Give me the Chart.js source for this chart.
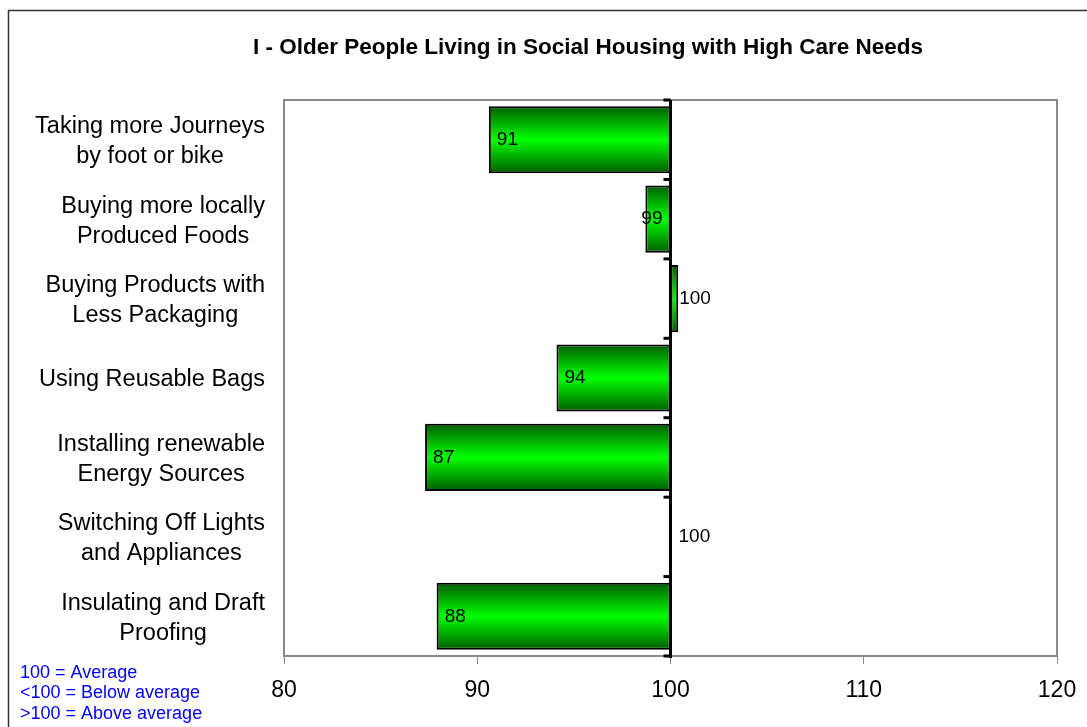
<!DOCTYPE html>
<html><head><meta charset="utf-8">
<script src="https://cdn.jsdelivr.net/npm/chart.js@4/dist/chart.umd.min.js"></script>
<style>html,body{margin:0;padding:0;background:#fff;}#wrap{width:1087px;height:727px;position:relative;}</style>
</head><body><div id="wrap"><canvas id="c" width="1087" height="727"></canvas></div>
<script>
const categories = [
  ["Taking more Journeys","by foot or bike"],
  ["Buying more locally","Produced Foods"],
  ["Buying Products with","Less Packaging"],
  ["Using Reusable Bags"],
  ["Installing renewable","Energy Sources"],
  ["Switching Off Lights","and Appliances"],
  ["Insulating and Draft","Proofing"]
];
const indexValues = [90.6, 98.7, 100.4, 94.1, 87.3, 100.0, 87.9];
const valueLabels = ["91","99","100","94","87","100","88"];
const baseline = 100;
const xTicks = [80, 90, 100, 110, 120];
const titleText = "I - Older People Living in Social Housing with High Care Needs";
const noteLines = ["100 = Average", "<100 = Below average", ">100 = Above average"];

const FONT = "'Liberation Sans', Arial, Helvetica, sans-serif";
const BAR_PCT = 0.845;

const deco = {
  id: 'deco',
  beforeDraw(chart) {
    const c = chart.ctx;
    c.save();
    c.fillStyle = '#fff';
    c.fillRect(0, 0, chart.width, chart.height);
    c.strokeStyle = '#333';
    c.lineWidth = 1.5;
    c.beginPath();
    c.moveTo(8.5, chart.height);
    c.lineTo(8.5, 10.5);
    c.lineTo(chart.width, 10.5);
    c.stroke();
    c.restore();
  },
  beforeDatasetsDraw(chart) {
    const a = chart.chartArea, c = chart.ctx;
    c.save();
    c.strokeStyle = '#888';
    c.lineWidth = 2;
    c.strokeRect(a.left, a.top, a.right - a.left, a.bottom - a.top);
    c.restore();
  },
  afterDatasetsDraw(chart) {
    const a = chart.chartArea, c = chart.ctx;
    const xs = chart.scales.x, ys = chart.scales.y;
    const x100 = xs.getPixelForValue(baseline);
    c.save();
    // base axis at 100
    c.strokeStyle = '#000';
    c.lineWidth = 3;
    c.beginPath();
    c.moveTo(x100, a.top);
    c.lineTo(x100, a.bottom + 2);
    c.stroke();
    // category boundary ticks
    const n = categories.length;
    const step = (a.bottom - a.top) / n;
    c.lineWidth = 3;
    for (let i = 0; i <= n; i++) {
      const y = i < n ? ys.getPixelForValue(i) - step / 2 : ys.getPixelForValue(n - 1) + step / 2;
      c.beginPath();
      c.moveTo(x100 - 7, y);
      c.lineTo(x100, y);
      c.stroke();
    }
    // value labels
    c.font = "19px " + FONT;
    c.fillStyle = '#000';
    c.textBaseline = 'middle';
    indexValues.forEach((v, i) => {
      const yc = ys.getPixelForValue(i);
      const txt = valueLabels[i];
      const tw = c.measureText(txt).width;
      const xv = xs.getPixelForValue(v);
      if (v < baseline) {
        if (x100 - xv >= tw + 16) {
          c.textAlign = 'left';
          c.fillText(txt, xv + 8, yc);
        } else {
          c.textAlign = 'right';
          c.fillText(txt, x100 - 8, yc);
        }
      } else {
        c.textAlign = 'left';
        c.fillText(txt, Math.max(xv + 1, x100 + 8), yc);
      }
    });
    // category labels
    c.font = "23.5px " + FONT;
    c.textAlign = 'center';
    const right = 265, lh = 30;
    categories.forEach((lines, i) => {
      const yc = ys.getPixelForValue(i) + 2;
      let w = 0;
      lines.forEach(l => { w = Math.max(w, c.measureText(l).width); });
      const cx = right - w / 2;
      const y0 = yc - (lines.length - 1) * lh / 2;
      lines.forEach((l, k) => c.fillText(l, cx, y0 + k * lh));
    });
    // notes
    c.font = "18px " + FONT;
    c.fillStyle = '#0000ff';
    c.textAlign = 'left';
    noteLines.forEach((t, k) => c.fillText(t, 20, 673 + k * 20.5));
    c.restore();
  }
};

new Chart(document.getElementById('c'), {
  type: 'bar',
  data: {
    labels: categories.map(l => l.join(' ')),
    datasets: [{
      data: indexValues.map(v => [v, baseline]),
      backgroundColor: (ctx) => {
        const chart = ctx.chart, a = chart.chartArea;
        if (!a) return '#00cc00';
        const ys = chart.scales.y;
        const yc = ys.getPixelForValue(ctx.dataIndex);
        const half = (a.bottom - a.top) / categories.length * BAR_PCT / 2;
        const g = chart.ctx.createLinearGradient(0, yc - half, 0, yc + half);
        g.addColorStop(0, '#005c00');
        g.addColorStop(0.5, '#00ff00');
        g.addColorStop(1, '#005c00');
        return g;
      },
      borderColor: '#000',
      borderWidth: 2,
      borderSkipped: false,
      barPercentage: BAR_PCT,
      categoryPercentage: 1
    }]
  },
  options: {
    indexAxis: 'y',
    responsive: false,
    devicePixelRatio: 1,
    animation: false,
    layout: { padding: { left: 119, right: 30, top: 0, bottom: 0 } },
    plugins: {
      legend: { display: false },
      tooltip: { enabled: false },
      title: {
        display: true,
        text: titleText,
        color: '#000',
        font: { family: FONT, size: 22.5, weight: 'bold', lineHeight: 1.2 },
        padding: { top: 34, bottom: 39 }
      }
    },
    scales: {
      x: {
        type: 'linear',
        position: 'bottom',
        min: 80, max: 120,
        afterBuildTicks: s => { s.ticks = xTicks.map(v => ({ value: v })); },
        afterFit: s => { s.height = 71; },
        ticks: { color: '#000', font: { family: FONT, size: 23, lineHeight: 1.45 }, padding: 10 },
        grid: { display: true, drawOnChartArea: false, drawTicks: true, tickLength: 8, color: '#888', lineWidth: 1 },
        border: { display: false }
      },
      y: {
        type: 'category',
        offset: true,
        afterFit: s => { s.width = 165; },
        ticks: { display: false },
        grid: { display: false },
        border: { display: false }
      }
    }
  },
  plugins: [deco]
});
</script>
</body></html>
